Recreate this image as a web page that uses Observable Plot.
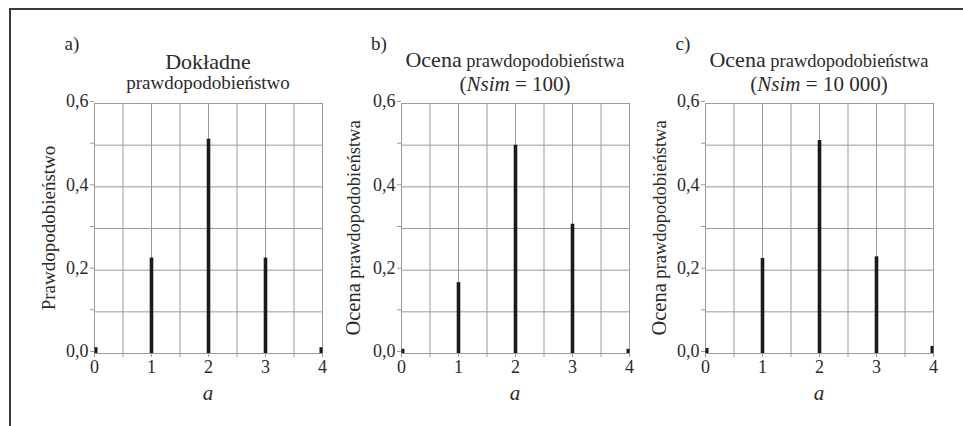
<!DOCTYPE html>
<html><head><meta charset="utf-8">
<script src="https://cdn.jsdelivr.net/npm/d3@7"></script>
<script src="https://cdn.jsdelivr.net/npm/@observablehq/plot@0.6"></script>
<style>
body{margin:0;background:#fff;}
#page{position:relative;width:963px;height:426px;overflow:hidden;background:#fff;font-family:"Liberation Serif","DejaVu Serif",serif;}
#frame{position:absolute;left:9px;top:8px;width:970px;height:430px;border-top:2px solid #3a3a3a;border-left:2px solid #3a3a3a;}
.panel{position:absolute;top:0;}
</style></head><body><div id="page"><div id="frame"></div></div>
<script>
// outcomes (a) and probabilities
const outcomes = [0, 1, 2, 3, 4];
const exactProb = [0.014, 0.229, 0.514, 0.229, 0.014];
const estimate100 = [0.01, 0.17, 0.50, 0.31, 0.01];
const estimate10000 = [0.012, 0.228, 0.511, 0.232, 0.017];

const yTicks = [0, 0.1, 0.2, 0.3, 0.4, 0.5, 0.6];
const yTickLabels = ["0,0", "", "0,2", "", "0,4", "", "0,6"];
const xTicks = [0, 0.5, 1, 1.5, 2, 2.5, 3, 3.5, 4];
const xTickLabels = ["0", "", "1", "", "2", "", "3", "", "4"];

const panelLetters = ["a)", "b)", "c)"];
const xLabel = "a";

const panels = [
  {values: exactProb, left: 0, letter: 0, ylx: 39, t1y: 69, t2y: 89,
   title1: [["Dokładne", 22, false]], title2: [["prawdopodobieństwo", 19, false]],
   ylabel: [["Prawdopodobieństwo", 19]]},
  {values: estimate100, left: 307, letter: 1, ylx: 41, t1y: 67, t2y: 91,
   title1: [["Ocena", 22, false], [" prawdopodobieństwa", 18.5, false]],
   title2: [["(", 21, false], ["Nsim", 21, true], [" = 100)", 21, false]],
   ylabel: [["Ocena", 20.5], [" prawdopodobieństwa", 18.5]]},
  {values: estimate10000, left: 611, letter: 2, ylx: 39, t1y: 67, t2y: 91,
   title1: [["Ocena", 22, false], [" prawdopodobieństwa", 18.5, false]],
   title2: [["(", 21, false], ["Nsim", 21, true], [" = 10 000)", 21, false]],
   ylabel: [["Ocena", 20.5], [" prawdopodobieństwa", 18.5]]}
];

const page = document.getElementById("page");
const ML = 94, MT = 103, W = 332, H = 413, MR = 10, MB = 60;
const ink = "#1a1a1a", grid = "#9a9a9a", txt = "#2a2a2a";

panels.forEach((p) => {
  const data = outcomes.map((a, i) => ({a, p: p.values[i]}));
  const first = data.filter(d => d.a === outcomes[0]);
  const last = data.filter(d => d.a === outcomes[outcomes.length - 1]);
  const inner = data.filter(d => d.a !== outcomes[0] && d.a !== outcomes[outcomes.length - 1]);
  const svg = Plot.plot({
    width: W, height: H, marginLeft: ML, marginRight: MR, marginTop: MT, marginBottom: MB,
    style: {background: "transparent", fontFamily: '"Liberation Serif", serif', fontSize: "18px", color: txt, overflow: "visible"},
    x: {domain: [0, 4]},
    y: {domain: [0, 0.6]},
    marks: [
      Plot.gridY(yTicks, {stroke: grid, strokeOpacity: 1, strokeWidth: 1}),
      Plot.gridX(xTicks, {stroke: grid, strokeOpacity: 1, strokeWidth: 1}),
      Plot.axisY(yTicks, {tickFormat: (d, i) => yTickLabels[i], tickSize: 4, tickPadding: 2, stroke: grid, label: null, fontSize: 18, dy: -2}),
      Plot.axisX(xTicks, {tickFormat: (d, i) => xTickLabels[i], tickSize: 4, tickPadding: 3, stroke: grid, label: null, fontSize: 18}),
      Plot.ruleX(inner, {x: "a", y1: 0, y2: "p", stroke: ink, strokeWidth: 3.6}),
      Plot.ruleX(first, {x: "a", y1: 0, y2: "p", stroke: ink, strokeWidth: 3, dx: 1.5}),
      Plot.ruleX(last, {x: "a", y1: 0, y2: "p", stroke: ink, strokeWidth: 3, dx: -1.5})
    ]
  });
  svg.classList.add("panel");
  svg.style.left = p.left + "px";
  page.appendChild(svg);

  const s = d3.select(svg);
  const xc = ML + (W - ML - MR) / 2;
  const yc = MT + (H - MT - MB) / 2;
  const g = s.append("g").attr("fill", txt).attr("font-family", '"Liberation Serif", serif');
  g.append("text").attr("x", ML - 22).attr("y", 50).attr("font-size", 19).text(panelLetters[p.letter]);
  const t1 = g.append("text").attr("x", xc).attr("y", p.t1y).attr("text-anchor", "middle");
  p.title1.forEach(([t, fs, it]) => t1.append("tspan").attr("font-size", fs).attr("font-style", it ? "italic" : null).text(t));
  const t2 = g.append("text").attr("x", xc).attr("y", p.t2y).attr("text-anchor", "middle");
  p.title2.forEach(([t, fs, it]) => t2.append("tspan").attr("font-size", fs).attr("font-style", it ? "italic" : null).text(t));
  const yl = g.append("text").attr("transform", `translate(${ML - p.ylx},${yc}) rotate(-90)`).attr("text-anchor", "middle");
  p.ylabel.forEach(([t, fs]) => yl.append("tspan").attr("font-size", fs).text(t));
  g.append("text").attr("x", xc).attr("y", 400).attr("text-anchor", "middle").attr("font-size", 21).attr("font-style", "italic").text(xLabel);
});
</script>
</body></html>
